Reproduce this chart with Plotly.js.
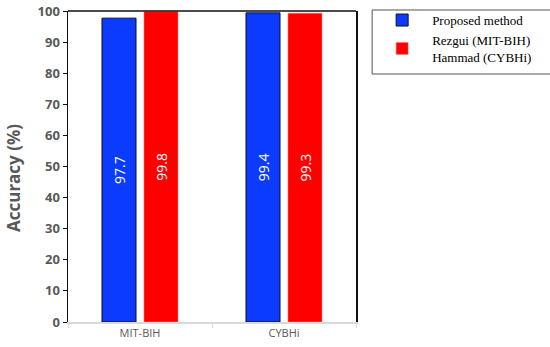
<!DOCTYPE html>
<html>
<head>
<meta charset="utf-8">
<script src="https://cdn.plot.ly/plotly-3.0.1.min.js"></script>
<style>html,body{margin:0;padding:0;background:#fff;}#chart{width:550px;height:347px;}</style>
</head>
<body>
<div id="chart"></div>
<script>
var categories = ['MIT-BIH', 'CYBHi'];
var proposedValues = [97.7, 99.4];
var comparedValues = [99.8, 99.3];
var seriesNames = ['Proposed method', 'Rezgui (MIT-BIH)<br>Hammad (CYBHi)'];
var yTicks = [0, 10, 20, 30, 40, 50, 60, 70, 80, 90, 100];
var yTitle = 'Accuracy (%)';

var traces = [
  {
    type: 'bar', x: categories, y: proposedValues, name: seriesNames[0],
    marker: {color: '#0b3bff', line: {color: '#111111', width: 1}},
    text: proposedValues.map(function(v){return v.toFixed(1);}),
    textposition: 'inside', insidetextanchor: 'middle', textangle: -90,
    textfont: {color: '#ffffff', size: 14, family: 'Open Sans, sans-serif'},
    hoverinfo: 'none'
  },
  {
    type: 'bar', x: categories, y: comparedValues, name: seriesNames[1],
    marker: {color: '#ff0000', line: {color: '#ff8080', width: 0.5}},
    text: comparedValues.map(function(v){return v.toFixed(1);}),
    textposition: 'inside', insidetextanchor: 'middle', textangle: -90,
    textfont: {color: '#ffffff', size: 14, family: 'Open Sans, sans-serif'},
    hoverinfo: 'none'
  }
];

var layout = {
  width: 550, height: 347,
  margin: {l: 68, r: 194, t: 11, b: 25, pad: 0, autoexpand: false},
  paper_bgcolor: '#ffffff', plot_bgcolor: '#ffffff',
  barmode: 'group', bargap: 0.4167, bargroupgap: 0.19,
  showlegend: true,
  legend: {
    x: 1.056, y: 1.019, xanchor: 'left', yanchor: 'top',
    borderwidth: 0, bgcolor: 'rgba(0,0,0,0)',
    font: {family: 'Liberation Serif, Times New Roman, serif', size: 13, color: '#000000'},
    itemwidth: 50, tracegroupgap: 7
  },
  xaxis: {
    type: 'category', showgrid: false, zeroline: false,
    showline: true, linecolor: '#d9d9d9', linewidth: 1.5,
    ticks: 'outside', tickson: 'boundaries', ticklen: 4, tickcolor: '#d9d9d9',
    tickfont: {family: 'Open Sans, sans-serif', size: 11, color: '#595959'}
  },
  yaxis: {
    range: [0, 100], tickvals: yTicks, showgrid: false, zeroline: false,
    showline: true, linecolor: '#111111', linewidth: 1.5, mirror: true,
    ticks: 'outside', ticklen: 4, tickcolor: '#111111',
    tickfont: {family: 'Open Sans, sans-serif', size: 13, color: '#595959', weight: 'bold'}
  },
  annotations: [
    {text: yTitle, xref: 'paper', yref: 'paper', x: -0.191, y: 0.463,
     xanchor: 'center', yanchor: 'middle', textangle: -90, showarrow: false,
     font: {family: 'Open Sans, sans-serif', size: 17, color: '#595959', weight: 'bold'}}
  ],
  shapes: [
    {type: 'line', xref: 'paper', yref: 'paper', x0: 0, x1: 1, y0: 1, y1: 1,
     line: {color: '#111111', width: 1.5}},
    {type: 'rect', xref: 'paper', yref: 'paper', x0: 1.056, x1: 1.68,
     y0: 1 - 63/311, y1: 1 + 1/311,
     line: {color: '#555555', width: 1}, fillcolor: 'rgba(0,0,0,0)', layer: 'below'}
  ]
};

Plotly.newPlot('chart', traces, layout, {displayModeBar: false, staticPlot: true});
</script>
</body>
</html>
